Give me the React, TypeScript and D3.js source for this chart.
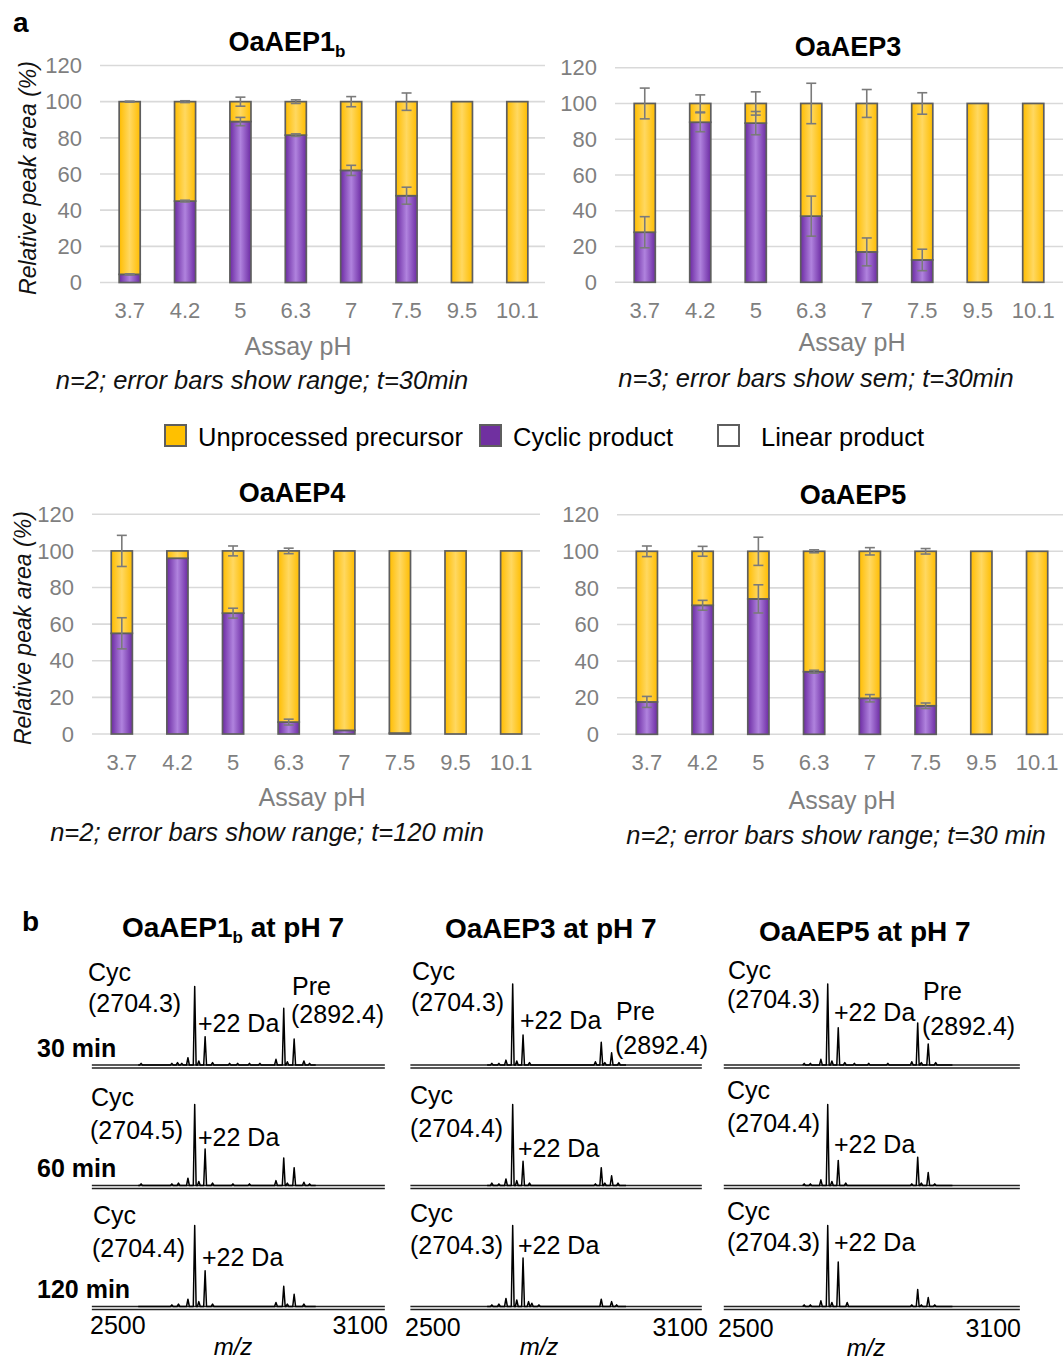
import React from "react";
import * as d3 from "d3";

const FONT = "'Liberation Sans', Arial, sans-serif";

// ---- panel a data ----
const PH_LABELS = ["3.7", "4.2", "5", "6.3", "7", "7.5", "9.5", "10.1"];
const Y_TICKS = [0, 20, 40, 60, 80, 100, 120];

const AEP1_CYC = [4.5, 45, 89, 81.5, 62, 48, 0, 0];
const AEP1_PRE = [95.5, 55, 11, 18.5, 38, 52, 100, 100];
const AEP1_CYC_ERR = [0.3, 0.5, 2.3, 0.7, 2.8, 4.7, 0, 0];
const AEP1_PRE_ERR = [0.3, 0.5, 2.5, 1, 2.8, 4.8, 0, 0];

const AEP3_CYC = [28, 89.5, 89, 37, 17, 12.5, 0, 0];
const AEP3_PRE = [72, 10.5, 11, 63, 83, 87.5, 100, 100];
const AEP3_CYC_ERR = [8.7, 5.3, 6.5, 11.2, 7.8, 6, 0, 0];
const AEP3_PRE_ERR = [8.6, 4.8, 6.5, 11.3, 7.8, 6, 0, 0];

const AEP4_CYC = [55, 96, 66, 6.5, 2, 0.5, 0, 0];
const AEP4_PRE = [45, 4, 34, 93.5, 98, 99.5, 100, 100];
const AEP4_CYC_ERR = [8.5, 0, 2.7, 1.6, 0, 0, 0, 0];
const AEP4_PRE_ERR = [8.5, 0, 2.7, 1.5, 0, 0, 0, 0];

const AEP5_CYC = [17.7, 70.5, 74, 34.2, 19.7, 15.6, 0, 0];
const AEP5_PRE = [82.3, 29.5, 26, 65.8, 80.3, 84.4, 100, 100];
const AEP5_CYC_ERR = [3, 2.7, 7.7, 0.8, 2, 1.5, 0, 0];
const AEP5_PRE_ERR = [2.9, 2.7, 7.7, 0.8, 2, 1.5, 0, 0];

const LEGEND = [
  { label: "Unprocessed precursor", fill: "#ffc000", x: 165, tx: 198 },
  { label: "Cyclic product", fill: "#7030a0", x: 480, tx: 513 },
  { label: "Linear product", fill: "#ffffff", x: 718, tx: 761 },
];

// ---- panel b data: [m/z, relative height] ----
const AEP1_30 = [[2591, 2], [2656, 2], [2668, 3], [2677, 2], [2690, 9], [2704.3, 97], [2713, 5], [2726.3, 35], [2742, 3], [2778, 2], [2795, 2], [2820, 2], [2842, 2], [2876, 7], [2892.4, 70], [2900, 4], [2914.4, 32], [2935, 5], [2947, 2]];
const AEP1_60 = [[2591, 2], [2656, 2], [2670, 3], [2690, 9], [2704.3, 100], [2713, 5], [2726.3, 45], [2742, 3], [2785, 2], [2820, 2], [2876, 6], [2892.4, 34], [2900, 3], [2914.4, 22], [2935, 4], [2947, 2]];
const AEP1_120 = [[2656, 2], [2670, 3], [2690, 9], [2704.3, 100], [2713, 6], [2726.3, 44], [2742, 3], [2876, 5], [2892.4, 25], [2900, 3], [2914.4, 15], [2935, 3]];

const AEP3_30 = [[2660, 2], [2675, 2], [2690, 6], [2704.3, 100], [2713, 5], [2726.3, 37], [2740, 3], [2880, 4], [2892.4, 28], [2900, 3], [2914.4, 15], [2930, 3]];
const AEP3_60 = [[2660, 3], [2675, 2], [2690, 8], [2704.3, 100], [2713, 6], [2726.3, 30], [2740, 3], [2880, 2], [2892.4, 22], [2900, 3], [2914.4, 12], [2928, 3]];
const AEP3_120 = [[2660, 2], [2675, 3], [2690, 10], [2704.3, 100], [2713, 8], [2726.3, 60], [2738, 6], [2745, 4], [2760, 2], [2892.4, 9], [2914.4, 6], [2925, 2]];

const AEP5_30 = [[2655, 2], [2668, 2], [2690, 7], [2704.3, 100], [2713, 5], [2726.3, 46], [2740, 3], [2760, 2], [2790, 2], [2830, 2], [2880, 4], [2892.4, 52], [2900, 3], [2914.4, 26], [2930, 3]];
const AEP5_60 = [[2655, 2], [2668, 2], [2690, 7], [2704.3, 100], [2713, 5], [2726.3, 31], [2742, 3], [2880, 2], [2892.4, 35], [2900, 3], [2914.4, 16], [2928, 2]];
const AEP5_120 = [[2655, 2], [2668, 2], [2690, 7], [2704.3, 100], [2713, 5], [2726.3, 55], [2745, 5], [2880, 2], [2892.4, 21], [2900, 2], [2914.4, 11], [2928, 2]];

const TIMES = ["30 min", "60 min", "120 min"];

const BAR_PANELS = [
  { title: "OaAEP1", sub: "b", titleX: 287, titleY: 42, left: 102, right: 545, gridRight: 545, top: 65.5, bottom: 282.5,
    cyc: AEP1_CYC, pre: AEP1_PRE, cycErr: AEP1_CYC_ERR, preErr: AEP1_PRE_ERR, yTitleX: 28,
    note: "n=2; error bars show range; t=30min", noteX: 262, noteY: 380, axisX: 298, axisY: 346 },
  { title: "OaAEP3", titleX: 848, titleY: 47, left: 617, right: 1061, gridRight: 1063, top: 67.7, bottom: 282.3,
    cyc: AEP3_CYC, pre: AEP3_PRE, cycErr: AEP3_CYC_ERR, preErr: AEP3_PRE_ERR,
    note: "n=3; error bars show sem; t=30min", noteX: 816, noteY: 378, axisX: 852, axisY: 342 },
  { title: "OaAEP4", titleX: 292, titleY: 493, left: 94, right: 539, gridRight: 540, top: 514.3, bottom: 734,
    cyc: AEP4_CYC, pre: AEP4_PRE, cycErr: AEP4_CYC_ERR, preErr: AEP4_PRE_ERR, yTitleX: 23,
    note: "n=2; error bars show range; t=120 min", noteX: 267, noteY: 832, axisX: 312, axisY: 797 },
  { title: "OaAEP5", titleX: 853, titleY: 495, left: 619, right: 1065, gridRight: 1063, top: 514.7, bottom: 734.3,
    cyc: AEP5_CYC, pre: AEP5_PRE, cycErr: AEP5_CYC_ERR, preErr: AEP5_PRE_ERR,
    note: "n=2; error bars show range; t=30 min", noteX: 836, noteY: 835, axisX: 842, axisY: 800 },
];

const SPEC_COLUMNS = [
  {
    title: "OaAEP1", sub: "b", titleX: 122, titleY: 927, range: [98, 382], trace: [2585, 2960],
    spectra: [AEP1_30, AEP1_60, AEP1_120],
    labels: [
      ["Cyc", 88, 972], ["(2704.3)", 88, 1003], ["+22 Da", 198, 1023], ["Pre", 292, 986], ["(2892.4)", 291, 1014],
      ["Cyc", 91, 1097], ["(2704.5)", 90, 1130], ["+22 Da", 198, 1137],
      ["Cyc", 93, 1215], ["(2704.4)", 92, 1248], ["+22 Da", 202, 1257],
    ],
    lo: [90, 1325], hi: [388, 1325], mz: [233, 1347],
  },
  {
    title: "OaAEP3", titleX: 445, titleY: 928, range: [416.5, 699], trace: [2650, 2945],
    spectra: [AEP3_30, AEP3_60, AEP3_120],
    labels: [
      ["Cyc", 412, 971], ["(2704.3)", 411, 1002], ["+22 Da", 520, 1020], ["Pre", 616, 1011], ["(2892.4)", 615, 1045],
      ["Cyc", 410, 1095], ["(2704.4)", 410, 1128], ["+22 Da", 518, 1148],
      ["Cyc", 410, 1213], ["(2704.3)", 410, 1245], ["+22 Da", 518, 1245],
    ],
    lo: [405, 1327], hi: [708, 1327], mz: [539, 1347],
  },
  {
    title: "OaAEP5", titleX: 759, titleY: 931, range: [730, 1017], trace: [2652, 2965],
    spectra: [AEP5_30, AEP5_60, AEP5_120],
    labels: [
      ["Cyc", 728, 970], ["(2704.3)", 727, 999], ["+22 Da", 834, 1012], ["Pre", 923, 991], ["(2892.4)", 922, 1026],
      ["Cyc", 727, 1090], ["(2704.4)", 727, 1123], ["+22 Da", 834, 1144],
      ["Cyc", 727, 1211], ["(2704.3)", 727, 1242], ["+22 Da", 834, 1242],
    ],
    lo: [718, 1328], hi: [1021, 1328], mz: [866, 1348],
  },
];
const SPEC_BASELINES = [1065, 1185.5, 1306.5];

function BarPanel({ p }: { p: any }) {
  const x = d3.scaleBand().domain(PH_LABELS).range([p.left, p.right]).paddingInner(0.62).paddingOuter(0.31);
  const y = d3.scaleLinear().domain([0, 120]).range([p.bottom, p.top]);
  const bw = x.bandwidth();
  const cap = 5;
  const errBar = (cx: number, v: number, e: number, key: string) => (
    <g key={key} stroke="#7a7a7a" strokeWidth={1.6}>
      <line x1={cx} x2={cx} y1={y(v - e)} y2={y(v + e)} />
      <line x1={cx - cap} x2={cx + cap} y1={y(v - e)} y2={y(v - e)} />
      <line x1={cx - cap} x2={cx + cap} y1={y(v + e)} y2={y(v + e)} />
    </g>
  );
  return (
    <g>
      {Y_TICKS.map((t) => (
        <g key={t}>
          <line x1={p.left - 2} x2={p.gridRight} y1={y(t)} y2={y(t)} stroke="#d9d9d9" strokeWidth={1.6} />
          <text x={p.left - 20} y={y(t)} dy="0.35em" textAnchor="end" fontSize={22} fill="#7f7f7f">{t}</text>
        </g>
      ))}
      {PH_LABELS.map((ph, i) => {
        const bx = x(ph) as number;
        const c = p.cyc[i];
        const total = c + p.pre[i];
        return (
          <g key={ph} stroke="#5e5e5e" strokeWidth={1.7}>
            {c > 0 && <rect x={bx} y={y(c)} width={bw} height={y(0) - y(c)} fill="url(#gPurple)" />}
            <rect x={bx} y={y(total)} width={bw} height={y(c) - y(total)} fill="url(#gYellow)" />
          </g>
        );
      })}
      {PH_LABELS.map((ph, i) => {
        const cx = (x(ph) as number) + bw / 2;
        const total = p.cyc[i] + p.pre[i];
        return (
          <g key={"e" + ph}>
            {p.preErr[i] > 0 && errBar(cx, total, p.preErr[i], "p")}
            {p.cycErr[i] > 0 && errBar(cx, p.cyc[i], p.cycErr[i], "c")}
          </g>
        );
      })}
      {PH_LABELS.map((ph) => (
        <text key={"t" + ph} x={(x(ph) as number) + bw / 2} y={p.bottom + 28} dy="0.35em" textAnchor="middle" fontSize={22} fill="#7f7f7f">{ph}</text>
      ))}
      <text x={p.axisX} y={p.axisY} dy="0.35em" textAnchor="middle" fontSize={25} fill="#7f7f7f">Assay pH</text>
      <text x={p.noteX} y={p.noteY} dy="0.35em" textAnchor="middle" fontSize={25.5} fontStyle="italic" fill="#111">{p.note}</text>
      <text x={p.titleX} y={p.titleY} dy="0.35em" textAnchor="middle" fontSize={27} fontWeight="bold" fill="#000">
        {p.title}
        {p.sub && <tspan fontSize={17} dy={6}>{p.sub}</tspan>}
      </text>
      {p.yTitleX && (
        <text transform={`translate(${p.yTitleX},${(p.top + p.bottom) / 2 + 4}) rotate(-90)`} dy="0.35em" textAnchor="middle" fontSize={23} fontStyle="italic" fill="#111">
          Relative peak area (%)
        </text>
      )}
    </g>
  );
}

function SpecColumn({ c }: { c: any }) {
  const x = d3.scaleLinear().domain([2500, 3100]).range(c.range);
  const hw = 3;
  return (
    <g>
      <text x={c.titleX} y={c.titleY} dy="0.35em" fontSize={28} fontWeight="bold">
        {c.title}
        {c.sub && <tspan fontSize={17} dy={6}>{c.sub}</tspan>}
        <tspan dy={c.sub ? -6 : 0}> at pH 7</tspan>
      </text>
      {c.spectra.map((peaks: number[][], r: number) => {
        const base = SPEC_BASELINES[r];
        const y = d3.scaleLinear().domain([0, 100]).range([base, base - 81]);
        const pts: [number, number][] = [[c.trace[0], 0]];
        peaks.forEach(([m, h]) => {
          pts.push([m - hw, 0], [m, h], [m + hw, 0]);
        });
        pts.push([c.trace[1], 0]);
        const line = d3.line<[number, number]>().x((d) => x(d[0])).y((d) => y(d[1]));
        return (
          <g key={r}>
            <line x1={x(2487)} x2={x(3106)} y1={base} y2={base} stroke="#222" strokeWidth={1.4} />
            <line x1={x(2487)} x2={x(3106)} y1={base + 3} y2={base + 3} stroke="#222" strokeWidth={1.4} />
            <path d={line(pts) as string} fill="none" stroke="#000" strokeWidth={1.5} strokeLinejoin="round" />
          </g>
        );
      })}
      {c.labels.map(([t, lx, ly]: [string, number, number], i: number) => (
        <text key={i} x={lx} y={ly} dy="0.35em" fontSize={25} fill="#000">{t}</text>
      ))}
      <text x={c.lo[0]} y={c.lo[1]} dy="0.35em" fontSize={25}>2500</text>
      <text x={c.hi[0]} y={c.hi[1]} dy="0.35em" fontSize={25} textAnchor="end">3100</text>
      <text x={c.mz[0]} y={c.mz[1]} dy="0.35em" fontSize={24} fontStyle="italic" textAnchor="middle">m/z</text>
    </g>
  );
}

export default function App() {
  return (
    <div style={{ position: "absolute", left: 0, top: 0 }}>
      <svg width={1063} height={1363} style={{ display: "block", background: "#fff", fontFamily: FONT }}>
        <defs>
          <linearGradient id="gPurple" x1="0" x2="1" y1="0" y2="0">
            <stop offset="0" stopColor="#6c2ba3" />
            <stop offset="0.5" stopColor="#b083de" />
            <stop offset="1" stopColor="#6c2ba3" />
          </linearGradient>
          <linearGradient id="gYellow" x1="0" x2="1" y1="0" y2="0">
            <stop offset="0" stopColor="#ffbd00" />
            <stop offset="0.5" stopColor="#ffd861" />
            <stop offset="1" stopColor="#ffbd00" />
          </linearGradient>
        </defs>
        <text x={13} y={22} dy="0.35em" fontSize={28} fontWeight="bold">a</text>
        <text x={22} y={921} dy="0.35em" fontSize={28} fontWeight="bold">b</text>
        {BAR_PANELS.map((p) => <BarPanel key={p.title} p={p} />)}
        {LEGEND.map((l) => (
          <g key={l.label}>
            <rect x={l.x} y={425} width={21} height={21} fill={l.fill} stroke="#5e5e5e" strokeWidth={2} />
            <text x={l.tx} y={437} dy="0.35em" fontSize={25.5}>{l.label}</text>
          </g>
        ))}
        {SPEC_COLUMNS.map((c, i) => <SpecColumn key={i} c={c} />)}
        {TIMES.map((t, r) => (
          <text key={t} x={37} y={SPEC_BASELINES[r] - 17} dy="0.35em" fontSize={25} fontWeight="bold">{t}</text>
        ))}
      </svg>
    </div>
  );
}
